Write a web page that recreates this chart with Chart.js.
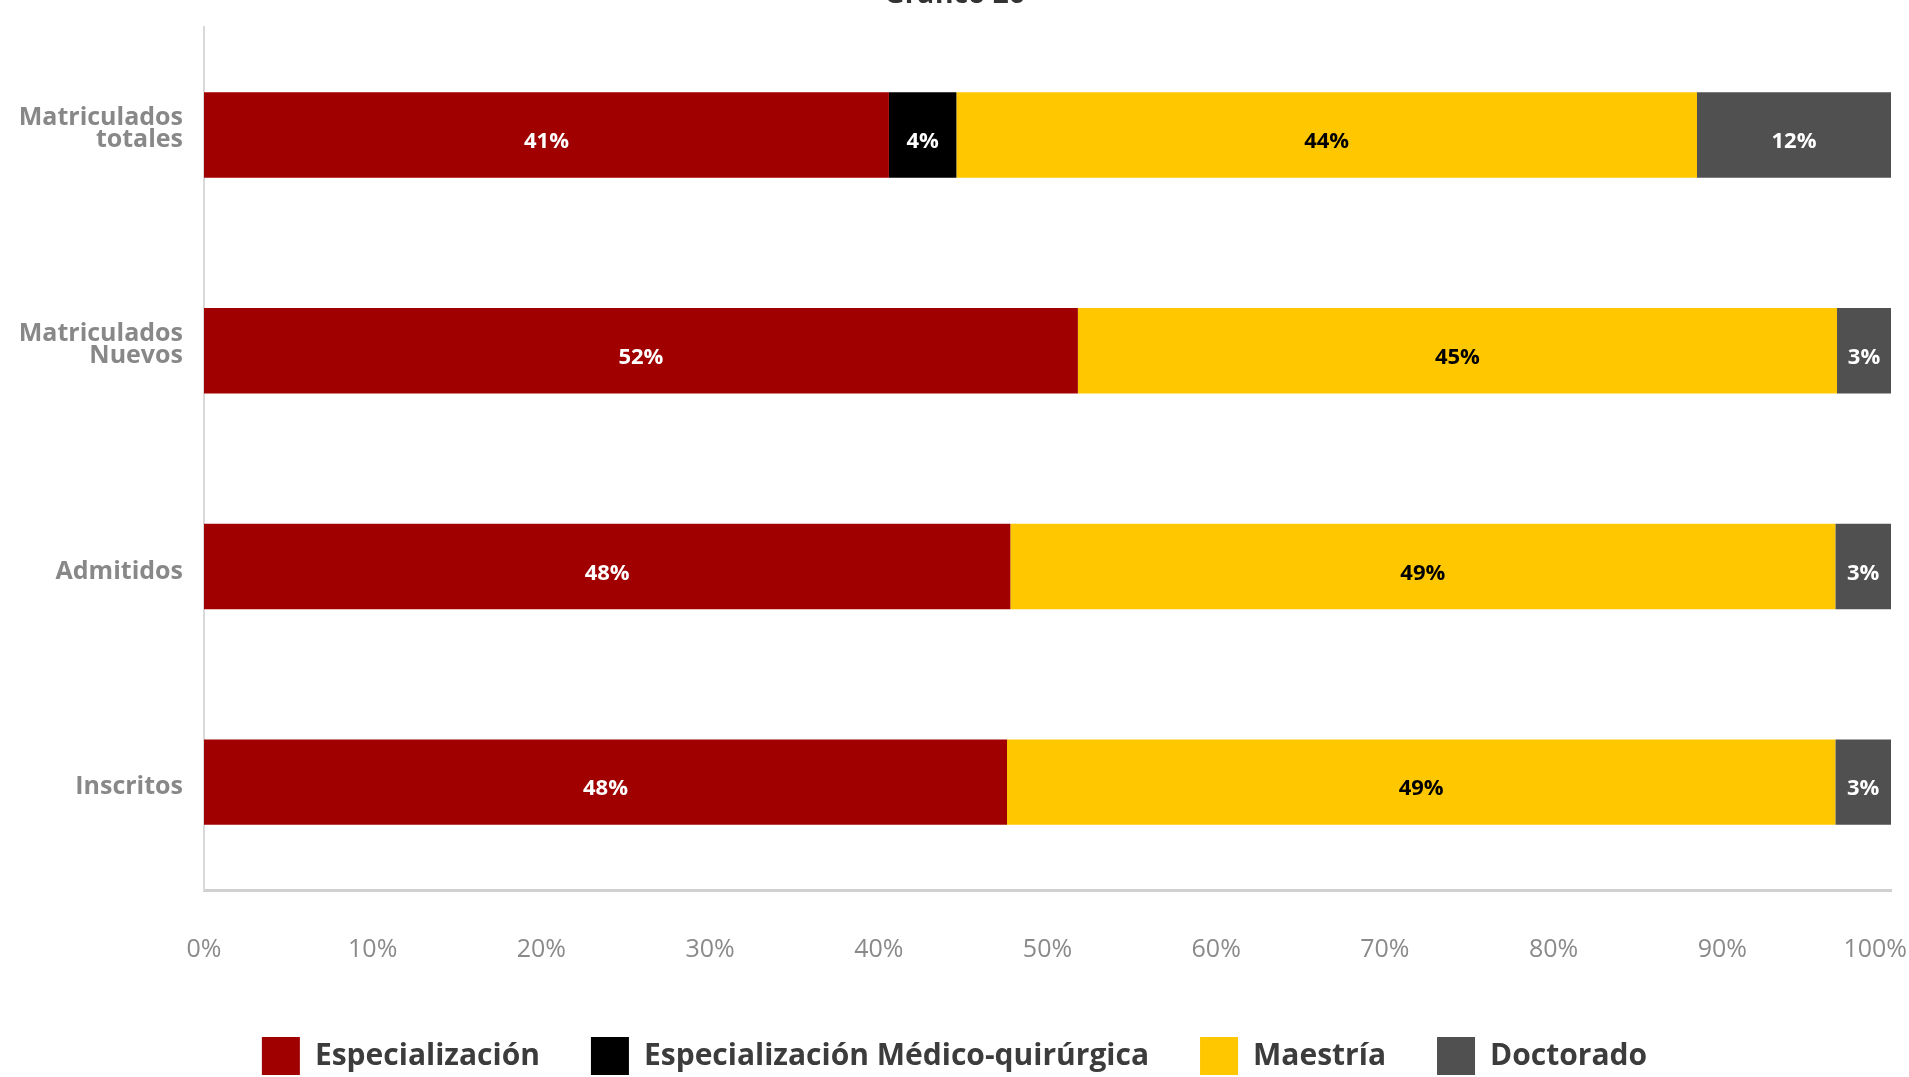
<!DOCTYPE html>
<html>
<head>
<meta charset="utf-8">
<script src="https://cdn.jsdelivr.net/npm/chart.js@4.4.1/dist/chart.umd.min.js"></script>
<style>
html, body { margin: 0; padding: 0; background: #fff; }
#wrap { width: 1909px; height: 1077px; overflow: hidden; position: relative; }
#wrap canvas { position: absolute; left: 0; top: -22px; }
</style>
</head>
<body>
<div id="wrap"><canvas id="myChart" width="1909" height="1107"></canvas></div>
<script>
// data
const categorias = [['Matriculados', 'totales'], ['Matriculados', 'Nuevos'], 'Admitidos', 'Inscritos'];
const especializacion = [40.6, 51.8, 47.8, 47.6];
const medicoQuirurgica = [4.0, 0, 0, 0];
const maestria = [43.9, 45.0, 48.9, 49.1];
const doctorado = [11.5, 3.2, 3.3, 3.3];
const seriesNombres = ['Especialización', 'Especialización Médico-quirúrgica', 'Maestría', 'Doctorado'];
const colores = ['#A00000', '#000000', '#FFC700', '#505050'];
const coloresTexto = ['#ffffff', '#ffffff', '#000000', '#ffffff'];
const ejeMin = 0;
const ejeMax = 100;
const ejePaso = 10;

const fuente = '"Open Sans", "Liberation Sans", sans-serif';

//labels inside the bars
const etiquetas = {
    id: 'etiquetas',
    afterDatasetsDraw(chart) {
        const ctx = chart.ctx;
        ctx.save();
        ctx.font = 'bold 22px ' + fuente;
        ctx.textAlign = 'center';
        ctx.textBaseline = 'middle';
        chart.data.datasets.forEach((ds, i) => {
            const meta = chart.getDatasetMeta(i);
            meta.data.forEach((bar, j) => {
                const v = ds.data[j];
                if (!v) return;
                const p = bar.getProps(['x', 'y', 'base'], true);
                ctx.fillStyle = coloresTexto[i];
                ctx.fillText(Math.round(v) + '%', (p.x + p.base) / 2, p.y + 7);
            });
        });
        ctx.restore();
    }
};

//x tick labels, the last one kept inside the page
const etiquetasEje = {
    id: 'etiquetasEje',
    afterDraw(chart) {
        const scale = chart.scales.x;
        const ctx = chart.ctx;
        ctx.save();
        ctx.font = '25px ' + fuente;
        ctx.fillStyle = '#8a8a8a';
        ctx.textAlign = 'center';
        ctx.textBaseline = 'middle';
        scale.ticks.forEach((t, i) => {
            const texto = t.value + '%';
            const w = ctx.measureText(texto).width;
            let x = scale.getPixelForTick(i);
            x = Math.min(x, chart.width - w / 2 - 2);
            ctx.fillText(texto, x, scale.top + 60);
        });
        ctx.restore();
    }
};

const ctx = document.getElementById('myChart').getContext('2d');
const myChart = new Chart(ctx, {
    type: 'bar',
    data: {
        labels: categorias,
        datasets: [
            { label: seriesNombres[0], data: especializacion, backgroundColor: colores[0] },
            { label: seriesNombres[1], data: medicoQuirurgica, backgroundColor: colores[1] },
            { label: seriesNombres[2], data: maestria, backgroundColor: colores[2] },
            { label: seriesNombres[3], data: doctorado, backgroundColor: colores[3] }
        ]
    },
    options: {
        indexAxis: 'y',
        responsive: false,
        animation: false,
        devicePixelRatio: 1,
        datasets: {
            bar: { barPercentage: 0.396, categoryPercentage: 1.0, borderWidth: 0 }
        },
        layout: { padding: 0 },
        plugins: {
            title: {
                display: true,
                text: 'Gráfico 26',
                color: '#333333',
                font: { family: fuente, size: 28, weight: 'bold', lineHeight: 1.2 },
                padding: { top: 0, bottom: 15.6 }
            },
            legend: {
                position: 'bottom',
                labels: {
                    boxWidth: 38,
                    boxHeight: 38,
                    padding: 51,
                    color: '#3c3c3c',
                    font: { family: fuente, size: 30, weight: 'bold' }
                }
            },
            tooltip: { enabled: false }
        },
        scales: {
            x: {
                stacked: true,
                min: ejeMin,
                max: ejeMax,
                grid: { display: false, drawTicks: false },
                border: { display: true, color: '#d0d0d0', width: 3 },
                ticks: { stepSize: ejePaso, display: false },
                afterFit: (scale) => {
                    scale.height = 96;
                    scale.paddingLeft = 0;
                    scale.paddingRight = 18;
                }
            },
            y: {
                stacked: true,
                grid: { display: false, drawTicks: false },
                border: { display: true, color: '#d9d9d9', width: 2 },
                ticks: {
                    padding: 21,
                    labelOffset: 5,
                    color: '#888888',
                    font: { family: fuente, size: 25, weight: 'bold', lineHeight: 0.87 },
                    // two-line labels sit a little higher, as in the original
                    callback: function (value) {
                        const l = this.getLabelForValue(value);
                        return Array.isArray(l) ? l.concat(['']) : l;
                    }
                },
                afterFit: (scale) => { scale.width = 204; }
            }
        }
    },
    plugins: [etiquetas, etiquetasEje]
});
</script>
</body>
</html>
